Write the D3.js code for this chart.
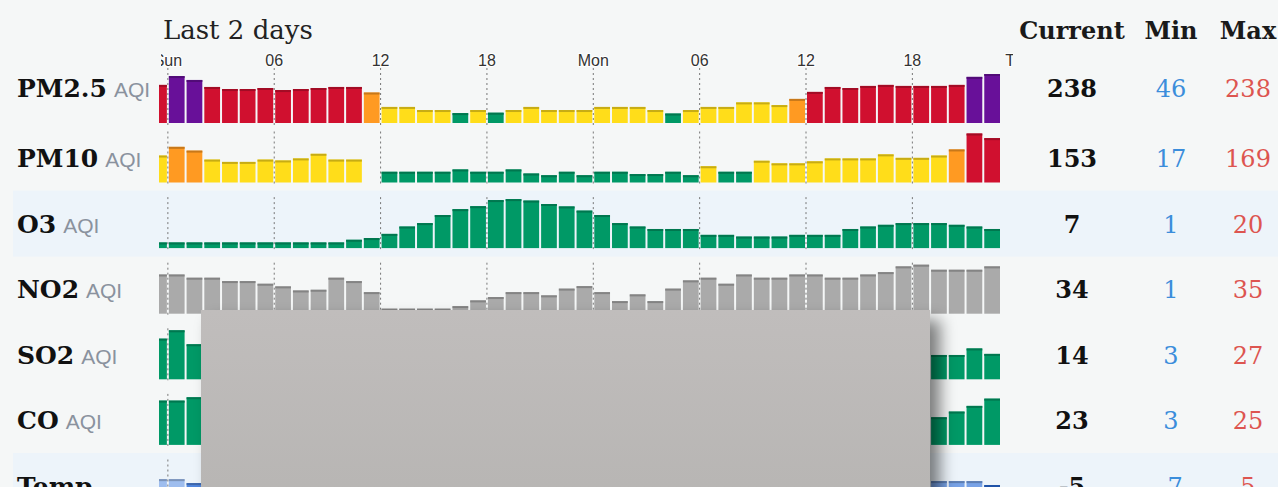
<!DOCTYPE html>
<html>
<head>
<meta charset="utf-8">
<title>aqi - last 2 days</title>
<script src="https://d3js.org/d3.v7.min.js"></script>
<style>
  body { margin: 0; background: #f5f7f7; }
</style>
</head>
<body>
<div id="my_dataviz"></div>
<script>

var width = 1278
    height = 487

// hour of each bar, 0 = Sun 00:00 (the first bar is the last hour of Sat)
var hours = d3.range(-1, 47)
// bars that are not under the grey popup in the SO2 / CO / Temp rows
var seenHours = [-1, 0, 1, 43, 44, 45, 46]

var tickHours = [0, 6, 12, 18, 24, 30, 36, 42, 48]
var tickLabels = ["Sun", "06", "12", "18", "Mon", "06", "12", "18", "Tue"]

var rowNames = ["PM2.5", "PM10", "O3", "NO2", "SO2", "CO", "Temp"]
var rowUnits = ["AQI", "AQI", "AQI", "AQI", "AQI", "AQI", ""]
var current = [238, 153, 7, 34, 14, 23, -5]
var minVals = [46, 17, 1, 1, 3, 3, -7]
var maxVals = [238, 169, 20, 35, 27, 25, 5]

var pm25 = [185, 228, 209, 175, 165, 165, 170, 160, 165, 170, 175, 175, 148, 78, 78, 63, 63, 48, 63, 50, 63, 78, 63, 63,
            63, 78, 78, 78, 63, 46, 63, 78, 78, 100, 100, 87, 117, 151, 175, 170, 180, 185, 180, 180, 180, 185, 224, 238]
var pm10 = [93, 123, 110, 79, 71, 71, 79, 76, 83, 99, 79, 79, null, 37, 37, 37, 37, 45, 37, 37, 45, 31, 25, 37,
            25, 37, 37, 29, 29, 37, 25, 56, 37, 37, 75, 66, 66, 73, 83, 83, 83, 97, 85, 85, 93, 114, 169, 153]
var o3 = [2.3, 2.3, 2.3, 2.3, 2.3, 2.3, 2.3, 2.3, 2.3, 2.3, 2.3, 3.4, 4.1, 5.8, 8.8, 10.2, 13.5, 15.9, 17.1, 19.6, 20, 19.4, 18, 17,
          15.3, 13.5, 10.2, 8.8, 7.8, 7.8, 7.8, 5.4, 5.4, 4.7, 4.7, 4.7, 5.4, 5.4, 5.4, 7.8, 8.8, 9.5, 10.2, 10.2, 10.2, 9.5, 8.8, 7.8]
var no2 = [28, 28, 25.7, 25.7, 23.3, 23.3, 21.4, 19.5, 16.6, 17.1, 25.7, 23.3, 15.4, 3.6, 3.6, 3.6, 3.6, 5.4, 9.5, 11.9, 15.4, 15.4, 13.1, 17.9,
           19.7, 15.4, 9, 13.8, 9, 17.9, 23.8, 25.7, 21.4, 28, 25.7, 25.7, 28, 28, 25.7, 25.7, 28, 29.7, 33.8, 35, 31.4, 31.4, 31.4, 33.8]
var so2 = [22.4, 27, 19.3, 13.4, 13.4, 17, 14]
var co = [22.6, 22.6, 24.3, 14.1, 17, 19.9, 23.6]
var temp = [-4, -4, -6, -5, -5, -5, -7]

var series = [pm25, pm10, o3, no2, so2, co, temp]
var seriesHours = [hours, hours, hours, hours, seenHours, seenHours, seenHours]
var kinds = ["aqi", "aqi", "aqi", "gray", "aqi", "aqi", "temp"]
var banded = [false, false, true, false, false, false, true]

var rows = rowNames.map(function(name, i) {
  return {
    i: i, name: name, unit: rowUnits[i], kind: kinds[i], band: banded[i],
    cur: current[i], min: minVals[i], max: maxVals[i],
    bars: seriesHours[i].map(function(h, j) { return {h: h, v: series[i][j]} })
                        .filter(function(d) { return d.v != null })
  }
})

var serif = "'DejaVu Serif', serif"
var sans = "'Liberation Sans', Arial, sans-serif"

// aqi colour levels
var aqiColor = d3.scaleThreshold()
  .domain([51, 101, 151, 201, 301])
  .range(["#009966", "#ffdd1a", "#ff9a22", "#d0102f", "#681099", "#7e0023"])
var tempColor = d3.scaleLinear().domain([-7, -4]).range(["#2b6bd6", "#9ebdee"])

function barColor(row, v) {
  if (row.kind == "gray") return "#aaaaaa"
  if (row.kind == "temp") return tempColor(v)
  return aqiColor(v)
}

// row geometry, the first row is a bit taller because of the time axis
function rowMid(i) { return i == 0 ? 88 : 158 + (i - 1) * 65.6 }
function rowBase(i) { return i == 0 ? 123 : rowMid(i) + 24.5 }

var x = d3.scaleLinear().domain([-0.5, 47]).range([159, 1001])

var svg = d3.select("#my_dataviz")
  .append("svg")
    .attr("width", width)
    .attr("height", height)
    .style("display", "block")

var defs = svg.append("defs")
defs.append("clipPath").attr("id", "tickclip")
  .append("rect").attr("x", 161).attr("y", 0).attr("width", 852).attr("height", 80)
defs.append("filter").attr("id", "blur")
    .attr("x", "-10%").attr("y", "-10%").attr("width", "120%").attr("height", "120%")
  .append("feGaussianBlur").attr("stdDeviation", 8)
var grad = defs.append("linearGradient").attr("id", "popup")
  .attr("x1", 0).attr("y1", 0).attr("x2", 0).attr("y2", 1)
grad.append("stop").attr("offset", "0%").attr("stop-color", "#c0bdbc")
grad.append("stop").attr("offset", "100%").attr("stop-color", "#b6b4b2")

svg.append("rect").attr("width", width).attr("height", height).attr("fill", "#f5f7f7")

// light blue bands behind some rows
svg.selectAll(".band")
  .data(rows.filter(function(d) { return d.band }))
  .join("rect")
    .attr("class", "band")
    .attr("x", 13)
    .attr("y", function(d) { return rowMid(d.i) - 33 })
    .attr("width", width - 13)
    .attr("height", 66)
    .attr("fill", "#edf4fa")

// header
svg.append("text").attr("x", 163).attr("y", 39).text("Last 2 days")
  .style("font-family", serif).style("font-size", "26px").style("fill", "#222")

var cols = [
  {title: "Current", x: 1072, key: "cur", color: "#111", weight: "bold"},
  {title: "Min", x: 1171, key: "min", color: "#3b8ddb", weight: "normal"},
  {title: "Max", x: 1248, key: "max", color: "#dd5550", weight: "normal"}
]
svg.selectAll(".colhead")
  .data(cols)
  .join("text")
    .attr("class", "colhead")
    .attr("x", function(d) { return d.x })
    .attr("y", 39)
    .attr("text-anchor", "middle")
    .text(function(d) { return d.title })
    .style("font-family", serif).style("font-weight", "bold").style("font-size", "24px")
    .style("fill", "#1a1a1a")

// time axis labels
svg.append("g").attr("clip-path", "url(#tickclip)")
  .selectAll("text")
  .data(tickHours)
  .join("text")
    .attr("x", function(d) { return x(d) })
    .attr("y", 66)
    .attr("text-anchor", "middle")
    .text(function(d, i) { return tickLabels[i] })
    .style("font-family", sans).style("font-size", "16px")
    .style("fill", "#333").style("stroke", "#fff").style("stroke-width", "2px")
    .style("paint-order", "stroke")

var grid = tickHours.filter(function(h) { return x(h) < 1001 })

rows.forEach(function(row) {
  var g = svg.append("g")
  var base = rowBase(row.i)
  var hScale = row.kind == "temp"
    ? d3.scaleLinear().domain([-20, row.max]).range([0, 49])
    : d3.scaleLinear().domain([0, row.max]).range([0, 49])

  // dotted hour lines
  g.selectAll("line")
    .data(grid)
    .join("line")
      .attr("x1", function(d) { return x(d) })
      .attr("x2", function(d) { return x(d) })
      .attr("y1", row.i == 0 ? 68 : base - 51)
      .attr("y2", base + 3)
      .attr("stroke", "#777")
      .attr("stroke-width", 1)
      .attr("stroke-dasharray", "2,3")

  function bx(d) { return Math.max(x(d.h) + 1, x(-0.5)) }
  function bw(d) { return x(d.h + 1) - 1 - bx(d) }

  g.selectAll(".bar")
    .data(row.bars)
    .join("rect")
      .attr("class", "bar")
      .attr("x", bx)
      .attr("width", bw)
      .attr("y", function(d) { return base - hScale(d.v) })
      .attr("height", function(d) { return hScale(d.v) })
      .attr("fill", function(d) { return barColor(row, d.v) })

  // darker top edge of every bar
  g.selectAll(".cap")
    .data(row.bars)
    .join("rect")
      .attr("class", "cap")
      .attr("x", bx)
      .attr("width", bw)
      .attr("y", function(d) { return base - hScale(d.v) })
      .attr("height", 2)
      .attr("fill", function(d) { return d3.color(barColor(row, d.v)).darker(0.7) })

  var t = g.append("text")
    .attr("x", 17)
    .attr("y", rowMid(row.i) + 9)
    .style("font-family", serif).style("font-weight", "bold").style("font-size", "25px")
    .style("fill", "#111")
  t.append("tspan").text(row.name)
  t.append("tspan").attr("dx", 7).text(row.unit)
    .style("font-family", sans).style("font-weight", "normal").style("font-size", "21px")
    .style("fill", "#8a929e")

  g.selectAll(".val")
    .data(cols)
    .join("text")
      .attr("class", "val")
      .attr("x", function(d) { return d.x })
      .attr("y", rowMid(row.i) + 9)
      .attr("text-anchor", "middle")
      .text(function(d) { return row[d.key] })
      .style("font-family", serif).style("font-size", "24px")
      .style("font-weight", function(d) { return d.weight })
      .style("fill", function(d) { return d.color })
})

// the grey popup that covers part of the chart, with its drop shadow
svg.append("rect")
  .attr("x", 211).attr("y", 320).attr("width", 729).attr("height", 220)
  .attr("fill", "#000").attr("opacity", 0.5).attr("filter", "url(#blur)")
svg.append("rect")
  .attr("x", 201).attr("y", 310).attr("width", 729).attr("height", 220)
  .attr("fill", "url(#popup)")

</script>
</body>
</html>
